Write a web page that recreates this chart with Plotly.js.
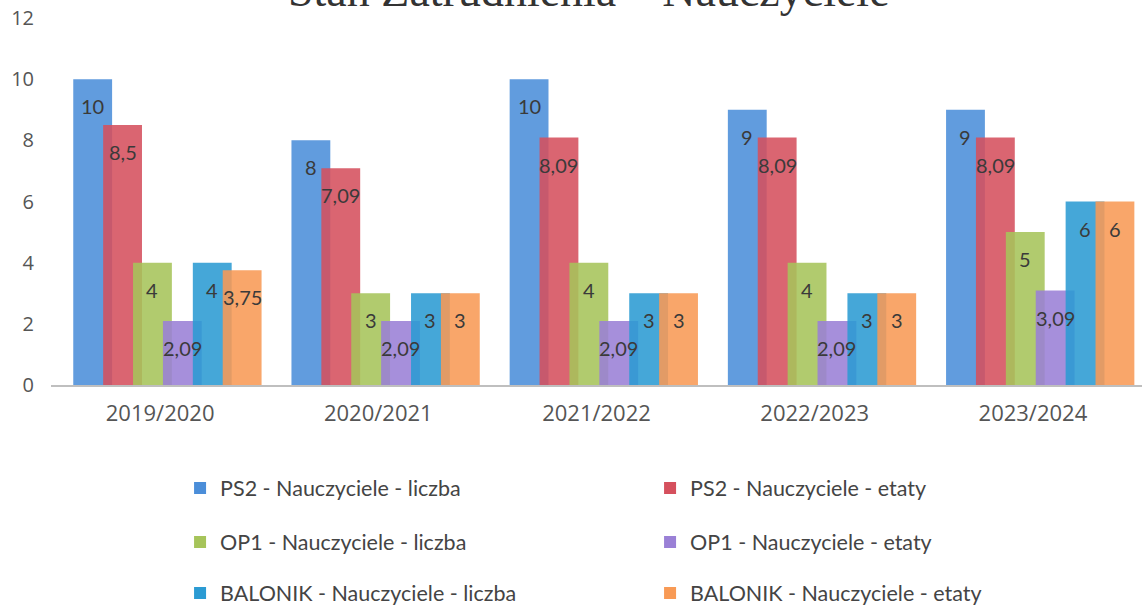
<!DOCTYPE html>
<html>
<head>
<meta charset="utf-8">
<script src="https://cdn.plot.ly/plotly-3.0.1.min.js"></script>
<style>html,body{margin:0;padding:0;background:#fff;}#chart{width:1146px;height:607px;}</style>
</head>
<body>
<div id="chart"></div>
<script>
// ---- data ----
const categories = ["2019/2020", "2020/2021", "2021/2022", "2022/2023", "2023/2024"];
const seriesNames = [
  "PS2 - Nauczyciele - liczba",
  "PS2 - Nauczyciele - etaty",
  "OP1 - Nauczyciele - liczba",
  "OP1 - Nauczyciele - etaty",
  "BALONIK - Nauczyciele - liczba",
  "BALONIK - Nauczyciele - etaty"
];
const ps2Liczba = [10, 8, 10, 9, 9];
const ps2Etaty = [8.5, 7.09, 8.09, 8.09, 8.09];
const op1Liczba = [4, 3, 4, 4, 5];
const op1Etaty = [2.09, 2.09, 2.09, 2.09, 3.09];
const balonikLiczba = [4, 3, 3, 3, 6];
const balonikEtaty = [3.75, 3, 3, 3, 6];
const yTicks = [0, 2, 4, 6, 8, 10, 12];

// ---- style ----
const colors = ["#4b8ed9", "#d5505d", "#a6c45a", "#9a80d6", "#2b9bd3", "#f89a55"];
const series = [ps2Liczba, ps2Etaty, op1Liczba, op1Etaty, balonikLiczba, balonikEtaty];
const barW = 0.178, step = 0.137, firstOff = -0.398;
const legendPos = [
  {x: 0.1183, y: -0.2807}, {x: 0.5491, y: -0.2807},
  {x: 0.1183, y: -0.4278}, {x: 0.5491, y: -0.4278},
  {x: 0.1183, y: -0.5668}, {x: 0.5491, y: -0.5668}
];
const legendIds = ["legend", "legend2", "legend3", "legend4", "legend5", "legend6"];

const fmt = v => String(v).replace(".", ",");

const traces = series.map((vals, k) => ({
  type: "bar",
  name: seriesNames[k],
  x: categories,
  y: vals,
  offset: firstOff + k * step,
  width: barW,
  marker: {color: colors[k], opacity: 0.88, line: {width: 0}},
  legend: legendIds[k],
  hoverinfo: "x+y+name"
}));

const annotations = [];
series.forEach((vals, k) => {
  vals.forEach((v, i) => {
    annotations.push({
      x: i + firstOff + k * step + barW / 2,
      y: v,
      xref: "x", yref: "y",
      text: fmt(v),
      showarrow: false,
      yanchor: "middle",
      xanchor: "center",
      yshift: -27,
      font: {family: "Lato, 'Open Sans', sans-serif", size: 20, color: "#3a3a3a"}
    });
  });
});
annotations.push({
  x: 0.493, y: 1.076, xref: "paper", yref: "paper",
  text: "Stan Zatrudnienia – Nauczyciele",
  showarrow: false, xanchor: "center", yanchor: "middle",
  font: {family: "'Liberation Serif', serif", size: 46, color: "#333333"}
});

const layout = {
  width: 1146, height: 607,
  margin: {l: 51, r: 4, t: 18, b: 222, autoexpand: false},
  paper_bgcolor: "#ffffff",
  plot_bgcolor: "#ffffff",
  barmode: "overlay",
  showlegend: true,
  xaxis: {
    type: "category",
    range: [-0.5, 4.5],
    showline: true, linecolor: "#bfbfbf", linewidth: 1.5,
    showgrid: false, zeroline: false, ticks: "",
    ticklabelstandoff: 8,
    automargin: false,
    tickfont: {family: "'Open Sans', sans-serif", size: 22, color: "#555555"}
  },
  yaxis: {
    range: [0, 12],
    tickvals: yTicks,
    ticktext: yTicks.map(String),
    showline: false, showgrid: false, zeroline: false, ticks: "",
    ticklabelstandoff: 16,
    automargin: false,
    tickfont: {family: "'Open Sans', sans-serif", size: 20, color: "#555555"}
  },
  annotations: annotations
};
legendIds.forEach((id, k) => {
  layout[id] = {
    x: legendPos[k].x, y: legendPos[k].y,
    xanchor: "left", yanchor: "middle",
    orientation: "h",
    bgcolor: "rgba(0,0,0,0)",
    itemwidth: 30,
    font: {family: "Lato, 'Open Sans', sans-serif", size: 21.5, color: "#444444"}
  };
});

Plotly.newPlot("chart", traces, layout, {displayModeBar: false, staticPlot: true});
</script>
</body>
</html>
